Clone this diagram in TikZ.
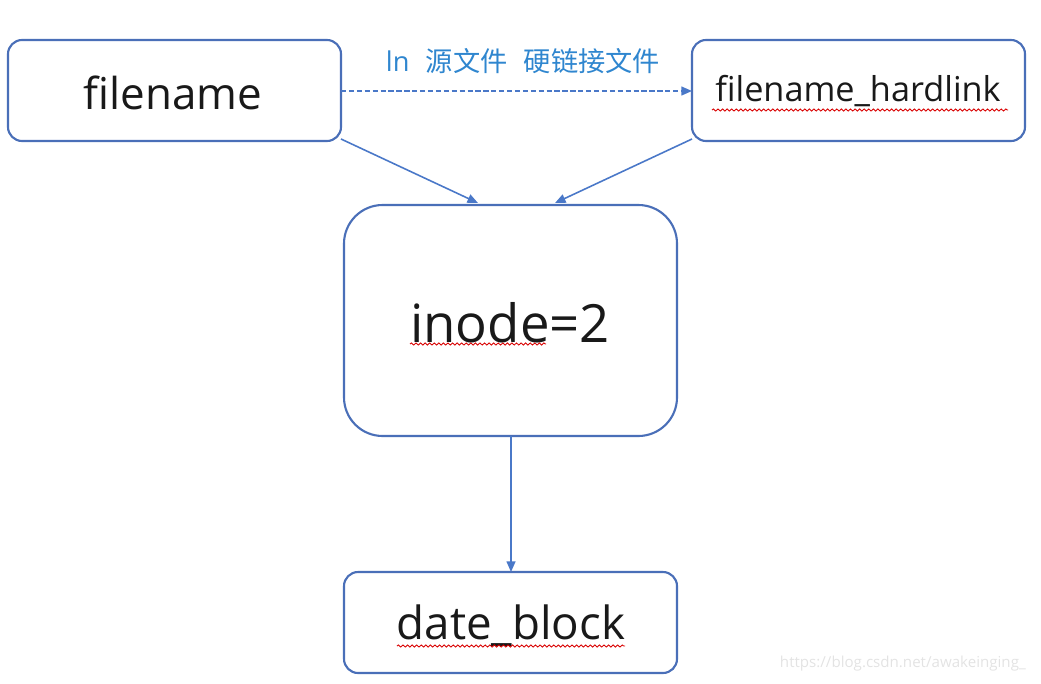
\documentclass[tikz,border=0pt]{standalone}
\usepackage{fontspec}
\setmainfont{Open Sans}
\newfontfamily\cjk{Noto Sans CJK SC}
\usetikzlibrary{arrows.meta,decorations.pathmorphing}
\definecolor{boxblue}{HTML}{4A6FB8}
\definecolor{arrblue}{HTML}{4A78C8}
\definecolor{lblblue}{HTML}{2F86CF}
\definecolor{wmgray}{HTML}{E3E3E3}
\tikzset{
  box/.style={draw=boxblue, line width=1.2pt, rounded corners=#1, inner sep=0pt, fill=white},
  box/.default=8pt,
  conn/.style={draw=arrblue, line width=0.9pt, -{Triangle[length=6pt,width=5pt]}},
  squig/.style={draw=red!85!black, line width=0.5pt, decorate, decoration={snake, amplitude=0.6pt, segment length=2.6pt}},
}
\begin{document}
\begin{tikzpicture}[x=0.02cm,y=-0.02cm]
\useasboundingbox (0,0) rectangle (1041,683);
% boxes
\draw[box] (8,40) rectangle (341,141);
\draw[box] (692,40) rectangle (1025,141);
\draw[box=22pt] (344,205) rectangle (677,436);
\draw[box] (344,572) rectangle (677,673);
\coordinate (fnE) at (341,91);
\coordinate (hlW) at (692,91);
\coordinate (fnSE) at (341,139);
\coordinate (hlSW) at (692,139);
\coordinate (inTa) at (478,203);
\coordinate (inTb) at (555,203);
\coordinate (inB) at (511,436);
\coordinate (dbT) at (511,572);
% texts
\node[font=\fontsize{25}{28}\selectfont, text=black!90] (fn) at (173,93) {filename};
\node[font=\fontsize{19.5}{22}\selectfont, text=black!90] (hl) at (858,91) {filename\_hardlink};
\node[font=\fontsize{30}{34}\selectfont, text=black!90] (in) at (510,323) {inode=2};
\node[font=\fontsize{26}{30}\selectfont, text=black!90] (db) at (511,626) {date\_block};
% squiggles
\draw[squig] (712,110) -- (1008,110);
\draw[squig] (410,344) -- (546,344);
\draw[squig] (397,646) -- (625,646);
% connectors
\draw[conn, dashed, dash pattern=on 3pt off 1.5pt] (fnE) -- (hlW);
\draw[conn] (fnSE) -- (inTa);
\draw[conn] (hlSW) -- (inTb);
\draw[conn] (inB) -- (dbT);
% label
\node[font=\fontsize{15.5}{18}\selectfont, text=lblblue] (lbl) at (523,61) {ln\hspace{0.6em}{\cjk 源文件}\hspace{0.6em}{\cjk 硬链接文件}};
% watermark
\node[font=\fontsize{8.6}{10}\selectfont, text=wmgray, anchor=east] (wm) at (1032,664) {https://blog.csdn.net/awakeinging\_};
\end{tikzpicture}
\end{document}
